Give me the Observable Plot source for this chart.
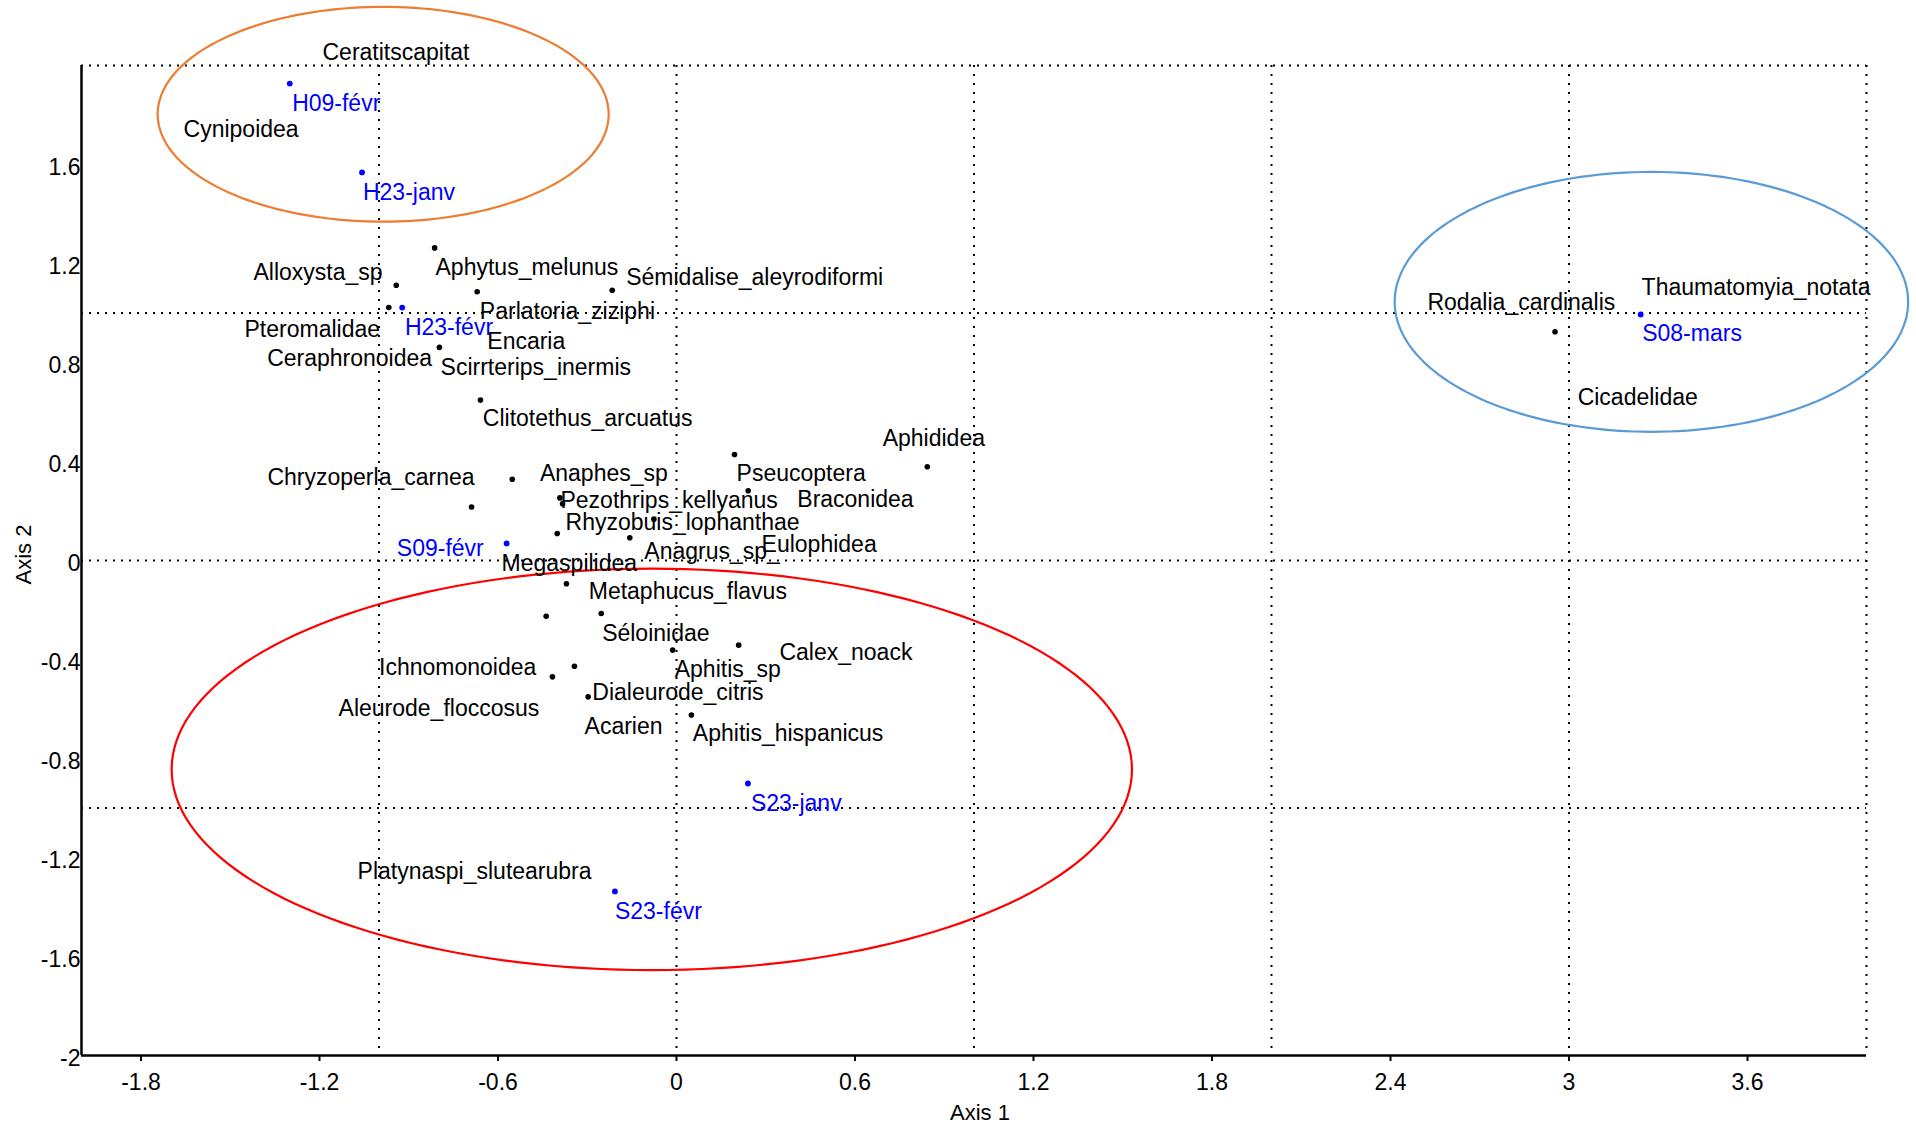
<!DOCTYPE html>
<html>
<head>
<meta charset="utf-8">
<script src="https://cdn.jsdelivr.net/npm/d3@7"></script>
<script src="https://cdn.jsdelivr.net/npm/@observablehq/plot@0.6"></script>
<style>
  html, body { margin: 0; padding: 0; background: #fff; }
  #chart svg { display: block; }
</style>
</head>
<body>
<div id="chart"></div>
<script>
// Axis ticks and grid
const xTicks = [-1.8, -1.2, -0.6, 0, 0.6, 1.2, 1.8, 2.4, 3, 3.6];
const yTicks = [-2, -1.6, -1.2, -0.8, -0.4, 0, 0.4, 0.8, 1.2, 1.6];
const gridX = [-1, 0, 1, 2, 3, 4];
const gridY = [-1, 0, 1, 2];

// Site points (blue)
const siteNames = ["H09-févr", "H23-janv", "H23-févr", "S09-févr", "S23-janv", "S23-févr", "S08-mars"];
const siteX = [-1.300, -1.057, -0.922, -0.571, 0.240, -0.207, 3.241];
const siteY = [1.927, 1.568, 1.022, 0.069, -0.901, -1.337, 0.994];
// Site label positions
const siteLabelX = [-1.292, -1.054, -0.913, -0.940, 0.250, -0.207, 3.246];
const siteLabelY = [1.853, 1.496, 0.947, 0.055, -0.975, -1.409, 0.924];

// Species points (black dots)
const speciesDotX = [-0.813, -0.942, -0.967, -0.670, -0.216, -0.797, -0.659, -0.552, -0.689, -0.392,
  -0.383, -0.076, -0.401, -0.157, 0.195, 0.241, 0.843, -0.370, -0.438, -0.253,
  -0.013, 0.209, -0.343, -0.417, -0.297, 0.050, 2.953];
const speciesDotY = [1.263, 1.112, 1.022, 1.086, 1.092, 0.861, 0.648, 0.328, 0.216, 0.253,
  0.229, 0.167, 0.109, 0.092, 0.428, 0.282, 0.379, -0.094, -0.225, -0.214,
  -0.362, -0.342, -0.427, -0.470, -0.551, -0.624, 0.924];

// Species labels
const speciesNames = ["Ceratitscapitat", "Cynipoidea", "Alloxysta_sp", "Aphytus_melunus", "Sémidalise_aleyrodiformi",
  "Parlatoria_ziziphi", "Pteromalidae", "Encaria", "Ceraphronoidea", "Scirrterips_inermis",
  "Clitotethus_arcuatus", "Aphididea", "Chryzoperla_carnea", "Anaphes_sp", "Pseucoptera",
  "Pezothrips_kellyanus", "Braconidea", "Rhyzobuis_lophanthae", "Eulophidea", "Anagrus_sp_",
  "Megaspilidea", "Metaphucus_flavus", "Séloinidae", "Calex_noack", "Ichnomonoidea",
  "Aphitis_sp", "Dialeurode_citris", "Aleurode_floccosus", "Acarien", "Aphitis_hispanicus",
  "Platynaspi_slutearubra", "Rodalia_cardinalis", "Thaumatomyia_notata", "Cicadelidae"];
const speciesLabelX = [-1.190, -1.657, -1.422, -0.810, -0.169,
  -0.661, -1.452, -0.636, -1.376, -0.793,
  -0.651, 0.693, -1.375, -0.459, 0.202,
  -0.390, 0.406, -0.373, 0.286, -0.108,
  -0.588, -0.295, -0.250, 0.346, -1.000,
  -0.006, -0.283, -1.136, -0.309, 0.055,
  -1.072, 2.524, 3.244, 3.029];
const speciesLabelY = [2.061, 1.749, 1.173, 1.191, 1.149,
  1.014, 0.941, 0.893, 0.825, 0.789,
  0.581, 0.500, 0.342, 0.361, 0.358,
  0.248, 0.253, 0.163, 0.073, 0.042,
  -0.005, -0.116, -0.288, -0.365, -0.423,
  -0.434, -0.524, -0.591, -0.665, -0.692,
  -1.248, 1.052, 1.112, 0.668];

// Group ellipses (centre and radii in axis units)
const ellipseNames = ["hiver", "mars", "été"];
const ellipseCX = [-0.986, 3.277, -0.083];
const ellipseCY = [1.803, 1.045, -0.844];
const ellipseRX = [0.758, 0.863, 1.614];
const ellipseRY = [0.434, 0.525, 0.811];
const ellipseColors = ["#ED7D31", "#5B9BD5", "#FF0000"];

// Build tables
const sites = siteNames.map((n, i) => ({name: n, x: siteX[i], y: siteY[i]}));
const siteLabels = siteNames.map((n, i) => ({name: n, x: siteLabelX[i], y: siteLabelY[i]}));
const speciesDots = speciesDotX.map((x, i) => ({x, y: speciesDotY[i]}));
const speciesLabels = speciesNames.map((n, i) => ({name: n, x: speciesLabelX[i], y: speciesLabelY[i]}));
const ellipseOutline = (i) => d3.range(0, 361, 2).map(a => ({
  x: ellipseCX[i] + ellipseRX[i] * Math.cos(a * Math.PI / 180),
  y: ellipseCY[i] + ellipseRY[i] * Math.sin(a * Math.PI / 180)
}));

const FONT = "'Liberation Sans', Arial, Helvetica, sans-serif";
const FS = 23;

const chart = Plot.plot({
  width: 1916,
  height: 1127,
  marginLeft: 81,
  marginRight: 50,
  marginTop: 65,
  marginBottom: 72,
  style: {fontFamily: FONT, fontSize: FS + "px", background: "white", color: "black"},
  x: {domain: [-2, 4]},
  y: {domain: [-2, 2]},
  marks: [
    Plot.ruleX(gridX, {stroke: "black", strokeWidth: 2, strokeDasharray: "2,7"}),
    Plot.ruleY(gridY, {stroke: "black", strokeWidth: 2, strokeDasharray: "2,6"}),
    ...ellipseNames.map((n, i) => Plot.line(ellipseOutline(i), {x: "x", y: "y", stroke: ellipseColors[i], strokeWidth: 2.2, curve: "linear"})),
    Plot.ruleX([-2], {stroke: "black", strokeWidth: 2.5}),
    Plot.ruleY([-2], {stroke: "black", strokeWidth: 2.5}),
    Plot.axisX({ticks: xTicks, tickSize: 6, tickPadding: 12, strokeWidth: 2, tickFormat: d => String(d), label: null, fontSize: FS}),
    Plot.axisY({ticks: yTicks, tickSize: 0, tickPadding: 1, dy: 3, tickFormat: d => String(d), label: null, fontSize: FS}),
    Plot.text(["Axis 1"], {frameAnchor: "bottom", lineAnchor: "middle", textAnchor: "middle", dx: 6, dy: 57, fontSize: 22, fill: "black"}),
    Plot.text(["Axis 2"], {frameAnchor: "left", lineAnchor: "middle", textAnchor: "middle", dx: -58, dy: -6, rotate: -90, fontSize: 22, fill: "black"}),
    Plot.dot(speciesDots, {x: "x", y: "y", r: 2.8, fill: "black", stroke: null}),
    Plot.dot(sites, {x: "x", y: "y", r: 2.9, fill: "#0000FF", stroke: null}),
    Plot.text(speciesLabels, {x: "x", y: "y", dy: 2, text: "name", textAnchor: "start", lineAnchor: "middle", fill: "black", fontSize: FS}),
    Plot.text(siteLabels, {x: "x", y: "y", dy: 2, text: "name", textAnchor: "start", lineAnchor: "middle", fill: "#0000FF", fontSize: FS})
  ]
});
document.getElementById("chart").appendChild(chart);
</script>
</body>
</html>
